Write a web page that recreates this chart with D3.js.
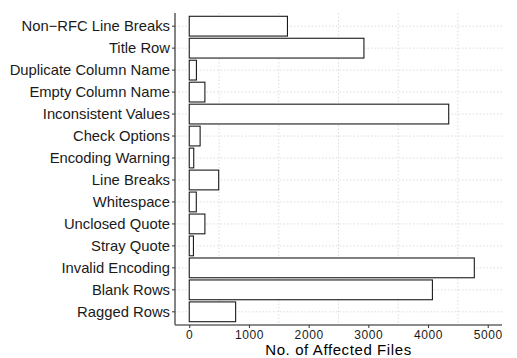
<!DOCTYPE html>
<html>
<head>
<meta charset="utf-8">
<script src="https://cdn.jsdelivr.net/npm/d3@7"></script>
<style>
  html, body { margin: 0; padding: 0; background: #fff; }
  text { font-family: "Liberation Sans", Arial, Helvetica, sans-serif; }
</style>
</head>
<body>
<svg id="chart" width="517" height="358"></svg>
<script>
// Issue categories, listed top to bottom
const categories = [
  "Non\u2212RFC Line Breaks", "Title Row", "Duplicate Column Name", "Empty Column Name",
  "Inconsistent Values", "Check Options", "Encoding Warning", "Line Breaks",
  "Whitespace", "Unclosed Quote", "Stray Quote", "Invalid Encoding",
  "Blank Rows", "Ragged Rows"
];
// Number of files affected by each issue
const affectedFiles = [
  1645, 2926, 120, 262,
  4346, 182, 75, 493,
  118, 262, 70, 4775,
  4073, 777
];
const xTicks = [0, 1000, 2000, 3000, 4000, 5000];
const xGrid = [500, 1500, 2500, 3500, 4500];
const xTitle = "No. of Affected Files";

const data = categories.map((c, i) => ({ name: c, value: affectedFiles[i] }));

const svg = d3.select("#chart");
const panel = { left: 175, right: 502, top: 13, bottom: 325 };

const maxV = d3.max(affectedFiles);
const x = d3.scaleLinear()
  .domain([-0.05 * maxV, Math.max(5000, maxV) + 0.05 * maxV])
  .range([panel.left, panel.right]);

const y = d3.scaleBand()
  .domain(categories)
  .range([panel.top, panel.bottom])
  .paddingInner(0.1)
  .paddingOuter(0.15);

// dotted grid
const grid = svg.append("g").attr("stroke", "#dcdcdc").attr("stroke-width", 1)
  .attr("stroke-dasharray", "1.5,2");
grid.selectAll("line.h").data(categories).join("line")
  .attr("x1", panel.left).attr("x2", panel.right)
  .attr("y1", d => y(d) + y.bandwidth() / 2).attr("y2", d => y(d) + y.bandwidth() / 2);
grid.selectAll("line.v").data(xGrid).join("line")
  .attr("x1", d => x(d)).attr("x2", d => x(d))
  .attr("y1", panel.top).attr("y2", panel.bottom);

// bars
svg.append("g").selectAll("rect").data(data).join("rect")
  .attr("x", x(0))
  .attr("y", d => y(d.name))
  .attr("width", d => x(d.value) - x(0))
  .attr("height", y.bandwidth())
  .attr("fill", "#fff")
  .attr("stroke", "#1a1a1a")
  .attr("stroke-width", 1.1);

// y axis
const yAxis = svg.append("g")
  .attr("transform", `translate(${panel.left},0)`)
  .call(d3.axisLeft(y).tickSize(3).tickPadding(2).tickSizeOuter(0));
yAxis.select(".domain").attr("stroke", "#666").attr("stroke-width", 1.6)
  .attr("d", `M0,${panel.top}V${panel.bottom}`);
yAxis.selectAll(".tick line").attr("stroke", "#333").attr("stroke-width", 1);
yAxis.selectAll(".tick text").attr("fill", "#1a1a1a").attr("font-size", 14.8)
  .attr("dy", "0.35em");

// x axis
const xAxis = svg.append("g")
  .attr("transform", `translate(0,${panel.bottom})`)
  .call(d3.axisBottom(x).tickValues(xTicks).tickFormat(d3.format("d")).tickSize(3).tickPadding(2).tickSizeOuter(0));
xAxis.select(".domain").attr("stroke", "#666").attr("stroke-width", 1.6)
  .attr("d", `M${panel.left},0H${panel.right}`);
xAxis.selectAll(".tick line").attr("stroke", "#333").attr("stroke-width", 1);
xAxis.selectAll(".tick text").attr("fill", "#1a1a1a").attr("font-size", 12)
  .attr("letter-spacing", "0.6px");

// x axis title
svg.append("text")
  .attr("x", (panel.left + panel.right) / 2)
  .attr("y", 354.5)
  .attr("text-anchor", "middle")
  .attr("font-size", 15)
  .attr("letter-spacing", "0.6px")
  .attr("fill", "#000")
  .text(xTitle);
</script>
</body>
</html>
